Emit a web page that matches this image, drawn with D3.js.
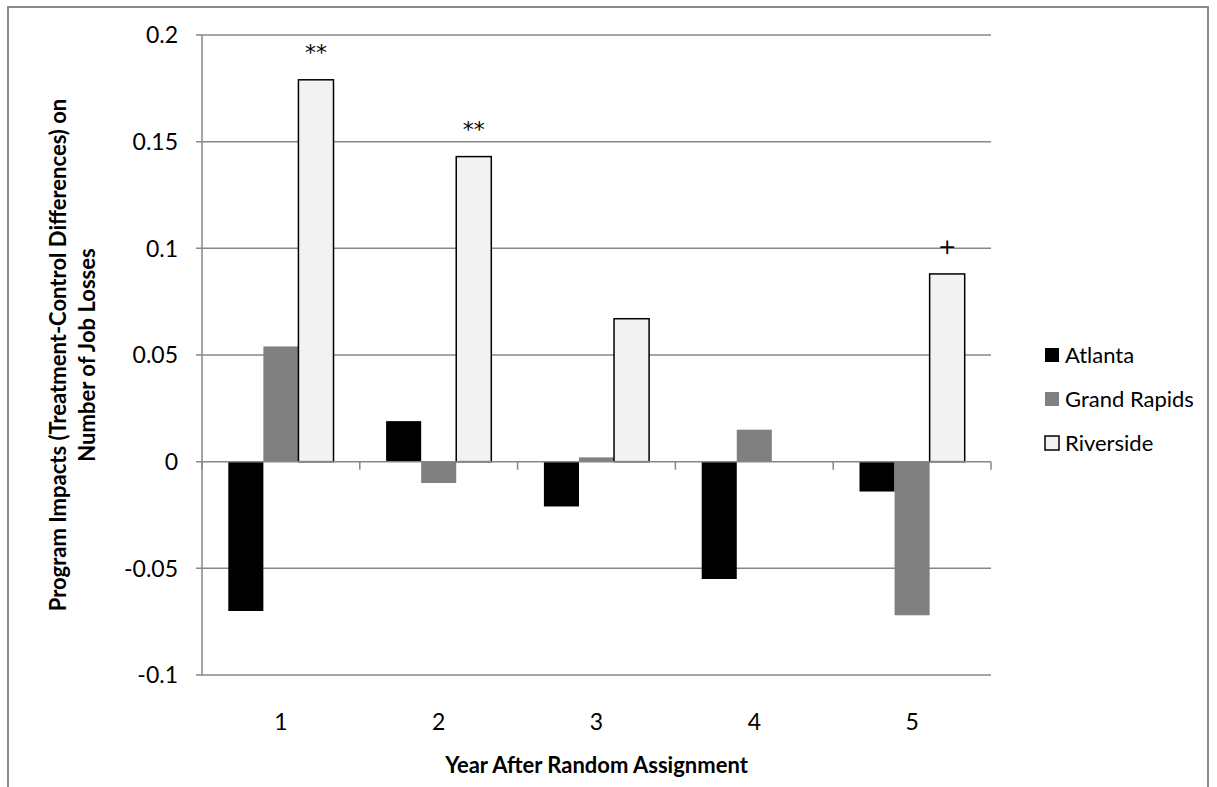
<!DOCTYPE html>
<html>
<head>
<meta charset="utf-8">
<script src="https://cdn.jsdelivr.net/npm/d3@7"></script>
<style>
  body { margin: 0; background: #fff; }
  svg text { font-family: Lato, "Open Sans", sans-serif; fill: #000; }
</style>
</head>
<body>
<div id="chart"></div>
<script>
// values
var years = ['1', '2', '3', '4', '5'];
var series = ['Atlanta', 'Grand Rapids', 'Riverside'];
var atlanta = [-0.070, 0.019, -0.021, -0.055, -0.014];
var grandRapids = [0.054, -0.010, 0.002, 0.015, -0.072];
var riverside = [0.179, 0.143, 0.067, null, 0.088];
var riversideSig = ['**', '**', '', '', '+'];
var yTicks = [-0.1, -0.05, 0, 0.05, 0.1, 0.15, 0.2];
var yTickLabels = ['-0.1', '-0.05', '0', '0.05', '0.1', '0.15', '0.2'];

var width = 1217, height = 787;
var plotLeft = 202, plotRight = 991, plotTop = 35, plotBottom = 675;

var fills = { 'Atlanta': '#000000', 'Grand Rapids': '#808080', 'Riverside': '#f2f2f2' };
var values = { 'Atlanta': atlanta, 'Grand Rapids': grandRapids, 'Riverside': riverside };

var svg = d3.select('#chart').append('svg')
  .attr('width', width)
  .attr('height', height);

// outer chart frame
svg.append('rect')
  .attr('x', 8).attr('y', 7)
  .attr('width', 1200).attr('height', 800)
  .attr('fill', 'none')
  .attr('stroke', '#898989')
  .attr('stroke-width', 2);

var x = d3.scaleBand().domain(years).range([plotLeft, plotRight]);
var xInner = d3.scaleBand().domain(series).range([0, x.bandwidth()])
  .paddingInner(0).paddingOuter(0.75);
var y = d3.scaleLinear().domain([-0.1, 0.2]).range([plotBottom, plotTop]);

// gridlines
svg.append('g').selectAll('line')
  .data(yTicks.filter(function(d) { return d != 0; }))
  .enter().append('line')
    .attr('x1', plotLeft - 6).attr('x2', plotRight)
    .attr('y1', function(d) { return y(d); })
    .attr('y2', function(d) { return y(d); })
    .attr('stroke', '#878787')
    .attr('stroke-width', 1.5);

// y axis line
svg.append('line')
  .attr('x1', plotLeft).attr('x2', plotLeft)
  .attr('y1', plotTop).attr('y2', plotBottom)
  .attr('stroke', '#878787')
  .attr('stroke-width', 1.5);

// y tick labels
svg.append('g').selectAll('text')
  .data(yTicks)
  .enter().append('text')
    .attr('x', 178)
    .attr('y', function(d) { return y(d); })
    .attr('dy', '0.36em')
    .attr('text-anchor', 'end')
    .style('font-size', '23px')
    .text(function(d, i) { return yTickLabels[i]; });

// bars
var rows = [];
years.forEach(function(yr, i) {
  series.forEach(function(s) {
    if (values[s][i] != null) rows.push({ year: yr, series: s, value: values[s][i], sig: s == 'Riverside' ? riversideSig[i] : '' });
  });
});

svg.append('g').selectAll('rect')
  .data(rows)
  .enter().append('rect')
    .attr('x', function(d) { return x(d.year) + xInner(d.series); })
    .attr('width', xInner.bandwidth())
    .attr('y', function(d) { return y(Math.max(0, d.value)); })
    .attr('height', function(d) { return Math.abs(y(d.value) - y(0)); })
    .attr('fill', function(d) { return fills[d.series]; })
    .attr('stroke', function(d) { return d.series == 'Riverside' ? '#000' : 'none'; })
    .attr('stroke-width', 1.5);

// significance markers
svg.append('g').selectAll('text')
  .data(rows.filter(function(d) { return d.sig; }))
  .enter().append('text')
    .attr('x', function(d) { return x(d.year) + xInner(d.series) + xInner.bandwidth() / 2; })
    .attr('y', function(d) { return y(d.value) - 20; })
    .attr('text-anchor', 'middle')
    .style('font-family', '"DejaVu Sans", sans-serif')
    .style('font-size', '22px')
    .text(function(d) { return d.sig; });

// x axis at zero
svg.append('line')
  .attr('x1', plotLeft - 6).attr('x2', plotRight)
  .attr('y1', y(0)).attr('y2', y(0))
  .attr('stroke', '#878787')
  .attr('stroke-width', 1.5);

svg.append('g').selectAll('line')
  .data(years.concat(['end']))
  .enter().append('line')
    .attr('x1', function(d, i) { return plotLeft + i * x.step(); })
    .attr('x2', function(d, i) { return plotLeft + i * x.step(); })
    .attr('y1', y(0)).attr('y2', y(0) + 8)
    .attr('stroke', '#878787')
    .attr('stroke-width', 1.5);

// x tick labels
svg.append('g').selectAll('text')
  .data(years)
  .enter().append('text')
    .attr('x', function(d) { return x(d) + x.bandwidth() / 2; })
    .attr('y', 722)
    .attr('dy', '0.36em')
    .attr('text-anchor', 'middle')
    .style('font-size', '23px')
    .text(function(d) { return d; });

// axis titles
svg.append('text')
  .attr('x', (plotLeft + plotRight) / 2)
  .attr('y', 765)
  .attr('dy', '0.36em')
  .attr('text-anchor', 'middle')
  .style('font-size', '22px')
  .style('font-weight', 'bold')
  .text('Year After Random Assignment');

var yTitle = svg.append('text')
  .attr('transform', 'translate(0,355) rotate(-90)')
  .attr('text-anchor', 'middle')
  .style('font-size', '22px')
  .style('font-weight', 'bold');
yTitle.append('tspan').attr('x', 0).attr('y', 66).text('Program Impacts (Treatment-Control Differences) on');
yTitle.append('tspan').attr('x', 0).attr('y', 95).text('Number of Job Losses');

// legend
var legend = svg.append('g').selectAll('g')
  .data(series)
  .enter().append('g')
    .attr('transform', function(d, i) { return 'translate(1045,' + (355 + i * 44) + ')'; });

legend.append('rect')
  .attr('x', 0).attr('y', -7)
  .attr('width', 14).attr('height', 14)
  .attr('fill', function(d) { return fills[d]; })
  .attr('stroke', function(d) { return d == 'Riverside' ? '#000' : 'none'; })
  .attr('stroke-width', 1.5);

legend.append('text')
  .attr('x', 20)
  .attr('y', 0)
  .attr('dy', '0.36em')
  .style('font-size', '22px')
  .text(function(d) { return d; });
</script>
</body>
</html>
